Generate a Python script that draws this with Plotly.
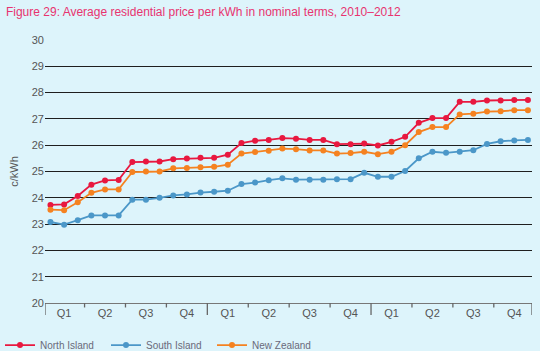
import plotly.graph_objects as go

months = list(range(36))
north_island = [23.73, 23.75, 24.07, 24.5, 24.66, 24.68, 25.36, 25.38, 25.38, 25.47, 25.49, 25.52,
                25.52, 25.64, 26.08, 26.17, 26.2, 26.27, 26.25, 26.2, 26.2, 26.04, 26.04, 26.06,
                25.99, 26.13, 26.32, 26.85, 27.03, 27.03, 27.65, 27.65, 27.7, 27.7, 27.72, 27.72]
south_island = [23.08, 22.98, 23.15, 23.33, 23.33, 23.33, 23.93, 23.93, 24.0, 24.09, 24.13, 24.2,
                24.23, 24.27, 24.52, 24.58, 24.67, 24.74, 24.69, 24.69, 24.69, 24.71, 24.71, 24.95,
                24.8, 24.8, 25.02, 25.5, 25.75, 25.71, 25.75, 25.81, 26.05, 26.15, 26.18, 26.2]
new_zealand = [23.55, 23.53, 23.83, 24.19, 24.32, 24.32, 24.98, 25.0, 25.0, 25.12, 25.13, 25.16,
               25.18, 25.26, 25.68, 25.74, 25.79, 25.87, 25.85, 25.8, 25.8, 25.68, 25.7, 25.75,
               25.66, 25.75, 26.0, 26.5, 26.69, 26.69, 27.17, 27.2, 27.28, 27.29, 27.33, 27.33]
quarter_labels = ["Q1", "Q2", "Q3", "Q4"] * 3
quarter_centers = [1 + 3 * i for i in range(12)]
year_bounds = [-0.4, 11.5, 23.5, 35.3]
quarter_bounds = [2.5, 5.5, 8.5, 14.5, 17.5, 20.5, 26.5, 29.5, 32.5]
y_ticks = list(range(20, 31))

BG = "#ddf4fb"
series = [
    ("North Island", north_island, "#e8183f"),
    ("South Island", south_island, "#4b97c8"),
    ("New Zealand", new_zealand, "#f58220"),
]

fig = go.Figure()
for name, vals, col in series:
    fig.add_trace(go.Scatter(
        x=months, y=vals, name=name, mode="lines+markers",
        line=dict(color=col, width=1.8),
        marker=dict(color=col, size=6),
    ))

shapes = []
for xb in year_bounds:
    shapes.append(dict(type="line", xref="x", yref="paper", x0=xb, x1=xb, y0=0, y1=-0.046,
                       line=dict(color="#666", width=1.3)))
for xb in quarter_bounds:
    shapes.append(dict(type="line", xref="x", yref="paper", x0=xb, x1=xb, y0=0, y1=-0.017,
                       line=dict(color="#666", width=1.3)))

fig.update_layout(
    width=540, height=351,
    margin=dict(l=45, r=8, t=40, b=48, autoexpand=False),
    paper_bgcolor=BG, plot_bgcolor=BG,
    font=dict(family="Liberation Sans, Arial, sans-serif", size=11, color="#444"),
    title=dict(text="Figure 29: Average residential price per kWh in nominal terms, 2010–2012",
               x=0.011, xanchor="left", y=0.965, yanchor="middle",
               font=dict(size=12, color="#e8336f")),
    showlegend=True,
    legend=dict(orientation="h", xref="container", x=-0.004, xanchor="left",
                yref="container", y=0.017, yanchor="middle",
                font=dict(size=10, color="#6a6a7a"), bgcolor="rgba(0,0,0,0)",
                itemwidth=30, entrywidth=61, entrywidthmode="pixels", tracegroupgap=0),
    shapes=shapes,
    xaxis=dict(range=[-0.4, 35.3], tickvals=quarter_centers, ticktext=quarter_labels,
               ticks="", showgrid=False, zeroline=False, showline=True,
               linecolor="#777", linewidth=1.3, tickfont=dict(size=11, color="#555"),
               fixedrange=True),
    yaxis=dict(range=[20, 30], tickvals=y_ticks, showgrid=True, gridcolor="#1e1e1e",
               gridwidth=1.3, zeroline=False, showline=False, ticks="",
               tickfont=dict(size=11, color="#555"),
               title=dict(text="c/kWh", font=dict(size=11, color="#555"), standoff=10),
               fixedrange=True),
)

fig.write_html("out.html")
